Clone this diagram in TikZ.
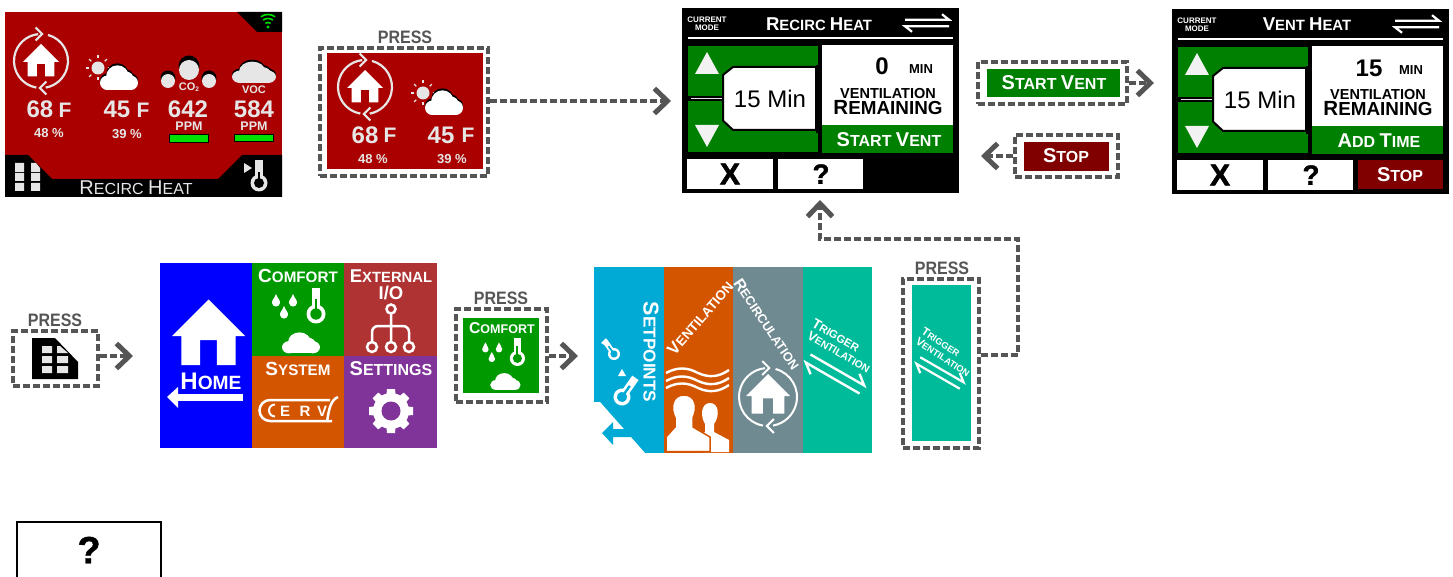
\documentclass[tikz,border=0pt]{standalone}
\usepackage{fontspec}
\usepackage{graphicx}
\setmainfont{Liberation Sans}
\usetikzlibrary{arrows.meta}
\definecolor{panelred}{HTML}{AA0000}
\definecolor{dgreen}{HTML}{008000}
\definecolor{stopred}{HTML}{800000}
\definecolor{dashgray}{HTML}{555555}
\definecolor{lgray}{HTML}{E6E6E6}
\definecolor{tgreen}{HTML}{009900}
\definecolor{tred}{HTML}{B03333}
\definecolor{torange}{HTML}{D45500}
\definecolor{tpurple}{HTML}{803399}
\definecolor{tcyan}{HTML}{00AAD4}
\definecolor{tslate}{HTML}{6F8A91}
\definecolor{tteal}{HTML}{00BB99}
\definecolor{wifig}{HTML}{00E000}
\newcounter{lb}
\newcommand\sm[1]{\scalebox{0.8}{#1}}
\newcommand\prs{\scalebox{.89}[1]{PRESS}}
\newcommand\lbl[3][]{\stepcounter{lb}\node[lab,#1] (t\arabic{lb}) at (#2) {#3};}
% icons, all drawn round the origin
\newcommand\houseicon[1]{\fill[#1] (0,-1)--(1,0)--(.74,0)--(.74,.8)--(.23,.8)--(.23,.11)--(-.23,.11)--(-.23,.8)--(-.74,.8)--(-.74,0)--(-1,0)--cycle;}
\newcommand\ringicon[2]{\draw[#1,line width=#2,line join=miter] (100:1) arc (100:264:1) (-.2,-1.24)--(.04,-1)--(-.2,-.76) (285:1) arc (285:440:1) (.2,.76)--(-.04,1)--(.2,1.24);}
\newcommand\cloudicon[1]{\fill[#1] (-.62,.2) circle (.38) (.62,.2) circle (.38) (-.08,-.12) circle (.6) (.4,-.02) circle (.36);\fill[#1] (-.62,-.1) rectangle (.62,.58);}
\newcommand\sunicon{\fill[lgray] (0,0) circle (6.5);\foreach \a in {0,45,...,315}{\draw[lgray,line width=1.2pt] (\a:9.5)--(\a:12.5);}}
\newcommand\thermoicon[1]{\fill[white] (-.45,-2.75) rectangle (.45,0);\fill[white] (0,0) circle (1);\fill[#1] (0,0) circle (.6);\fill[#1] (-.14,-1.6) rectangle (.14,-.3);}
\newcommand\dropicon{\fill[white] (0,-1.5) .. controls (.2,-.8) and (.75,-.4) .. (.75,.1) arc (0:180:.75) .. controls (-.75,-.4) and (-.2,-.8) .. (0,-1.5) -- cycle;}
\newcommand\swapicon[1]{\draw[white,line width=#1,line join=miter] (-.5,-.075)--(.5,-.075)--(.34,-.2) (.5,.075)--(-.5,.075)--(-.34,.2);}
\newcommand\homeblock[3]{%
  \begin{scope}[shift={(#1,#2)},scale=#3]\ringicon{lgray}{2.2pt}\end{scope}
  \begin{scope}[shift={(#1,#2+1)},scale=18]\houseicon{white}\end{scope}}
\newcommand\weatherblock[2]{%
  \begin{scope}[shift={(#1,#2)}]\sunicon\end{scope}
  \begin{scope}[shift={(#1+21,#2+9)},scale=19]\cloudicon{black}\end{scope}
  \begin{scope}[shift={(#1+21,#2+11)},scale=19]\cloudicon{white}\end{scope}}
\newcommand\comfortset[3]{% x y scale
  \begin{scope}[shift={(#1,#2)},scale=#3]
   \begin{scope}[shift={(-22,26)},scale=5.4]\dropicon\end{scope}
   \begin{scope}[shift={(-5,26)},scale=5.4]\dropicon\end{scope}
   \begin{scope}[shift={(-14,38)},scale=5.4]\dropicon\end{scope}
   \begin{scope}[shift={(18,38)},scale=9.5]\thermoicon{tgreen}\end{scope}
   \begin{scope}[shift={(3,68)},scale=19,yscale=.85]\cloudicon{white}\end{scope}
  \end{scope}}
\newcommand\screenbody{%
  \fill[dgreen] (688,46) rectangle (818,152);
  \fill[black] (688,96) rectangle (723,101);
  \fill[black] (816,65) rectangle (823,133);
  \draw[lgray,line width=1.5pt] (691,98.5)--(725,98.5);
  \fill[white,draw=black,line width=2pt] (723,75)--(733,67)--(816,67)--(816,130)--(733,130)--(723,120.6)--cycle;
  \fill[white!95!black] (707,52)--(719,74)--(695,74)--cycle;
  \fill[white!95!black] (695,125)--(719,125)--(707,147)--cycle;
  \fill[white] (822,45) rectangle (953,125);
  \fill[dgreen] (822,125) rectangle (953,153);
  \draw[white,line width=2.5pt] (688,38)--(953,38);
  \begin{scope}[shift={(927,23)},scale=44]\swapicon{2.2pt}\end{scope}
  \lbl[fs=8]{707,24}{CURRENT\\MODE}
  \lbl[font=\fontsize{24}{24}\selectfont,text=black]{770,99}{15 Min}
  \lbl[fs=14.5,text=black]{888,94}{VENTILATION}
  \lbl[fs=20.5,text=black]{888,108}{R\scalebox{.92}{EMAINING}}
  \fill[white] (687,159) rectangle (773,189);
  \fill[white] (778,159) rectangle (863,189);
  \lbl[fs=30,text=black]{730,174}{\addfontfeature{FakeBold=2}X}
  \lbl[fs=28,text=black]{821,174}{\addfontfeature{FakeBold=1}?}
}
\tikzset{
 x=1pt,y=-1pt,
 lab/.style={inner sep=0pt,text=white,align=center},
 fs/.style={font=\bfseries\fontsize{#1}{#1}\selectfont},
 dbox/.style={draw=dashgray,line width=3.2pt,dash pattern=on 7pt off 3pt,inner sep=0pt,minimum width=#1},
 flow/.style={draw=dashgray,line width=3.2pt,dash pattern=on 7pt off 3pt,-{Straight Barb[length=13pt,width=25pt,line width=5pt]}},
 presslab/.style={fs=18,text=dashgray},
}
\begin{document}
\begin{tikzpicture}
\useasboundingbox (0,0) rectangle (1453,577);
%% ---- panel 1
\node[fill=panelred,minimum width=277pt,minimum height=185pt,inner sep=0pt] (panelA) at (143.5,104.5) {};
\fill[black] (237,12)--(282,12)--(282,32)--(257,32)--cycle;
\foreach \r in {4.5,8.5,12.5}{\draw[wifig,line width=1.6pt] (268,27)++(235:\r) arc (235:305:\r);}
\fill[wifig] (268,27) circle (1.7);
\fill[black] (5,155)--(28,155)--(52,179)--(218,179)--(242,155)--(282,155)--(282,197)--(5,197)--cycle;
\fill[lgray] (15,163) rectangle (24,172) (31,163)--(36,163)--(40,168)--(40,172)--(31,172)--cycle (15,173) rectangle (24,181) (31,173) rectangle (40,181) (15,183) rectangle (24,191) (31,183) rectangle (40,191);
\lbl[font=\fontsize{20}{20}\selectfont,text=lgray]{136,188}{R\sm{ECIRC }H\sm{EAT}}
\fill[lgray] (244,163)--(252,168)--(244,173)--cycle;
\fill[lgray] (255,160) rectangle (263,178);
\fill[lgray] (259,183) circle (8.5);
\fill[black] (259,183) circle (5);
\fill[black] (258,172) rectangle (260,180);
\homeblock{41}{61}{27}
\lbl[fs=24,text=lgray]{40,109}{68}
\lbl[fs=21,text=lgray]{65,110}{F}
\lbl[fs=13,text=lgray]{49,133}{48 \%}
\weatherblock{98}{68}
\lbl[fs=24,text=lgray]{117,109}{45}
\lbl[fs=21,text=lgray]{143,110}{F}
\lbl[fs=13,text=lgray]{127,134}{39 \%}
\fill[black] (168,78) circle (7.5) (189,66) circle (10.5) (209,78) circle (7.5);
\fill[lgray] (168,81) circle (7) (189,70) circle (10) (209,81) circle (7);
\lbl[fs=11,text=lgray]{189,87}{CO\raisebox{-1pt}{\scalebox{.6}{2}}}
\lbl[fs=24,text=lgray]{188,109}{642}
\lbl[fs=12.5,text=lgray]{189,126}{PPM}
\fill[wifig,draw=black,line width=1pt] (169,135) rectangle (208,143);
\begin{scope}[shift={(254,71.5)},scale=22,yscale=.75]\cloudicon{black}\end{scope}
\begin{scope}[shift={(254,73.5)},scale=22,yscale=.75]\cloudicon{lgray}\end{scope}
\lbl[fs=11,text=lgray]{254,90}{VOC}
\lbl[fs=24,text=lgray]{254,109}{584}
\lbl[fs=12.5,text=lgray]{254,126}{PPM}
\fill[wifig,draw=black,line width=1pt] (234,135) rectangle (273,142);
%% ---- press panel
\lbl[presslab]{405,37}{\prs}
\fill[panelred] (327,53) rectangle (483,169);
\node[dbox=168pt,minimum height=128pt] (pressA) at (404,112) {};
\homeblock{365}{87}{27}
\weatherblock{423}{93}
\lbl[fs=24,text=lgray]{365,135}{68}
\lbl[fs=21,text=lgray]{390,135}{F}
\lbl[fs=13,text=lgray]{373,159}{48 \%}
\lbl[fs=24,text=lgray]{441,135}{45}
\lbl[fs=21,text=lgray]{468,135}{F}
\lbl[fs=13,text=lgray]{452,159}{39 \%}
%% ---- recirc screen
\node[fill=black,minimum width=277pt,minimum height=185pt,inner sep=0pt] (scrA) at (820.5,100.5) {};
\screenbody
\lbl[fs=18.6]{819,24}{R\sm{ECIRC }H\sm{EAT}}
\lbl[fs=24,text=black]{882,66}{0}
\lbl[fs=13,text=black]{921,69}{MIN}
\lbl[fs=20]{889,140}{S\sm{TART }V\sm{ENT}}
%% ---- vent screen
\node[fill=black,minimum width=277pt,minimum height=185pt,inner sep=0pt] (scrB) at (1310.5,101.5) {};
\begin{scope}[shift={(490,1)}]
\screenbody
\lbl[fs=18.6]{817,23}{V\sm{ENT }H\sm{EAT}}
\lbl[fs=24,text=black]{879,67}{15}
\lbl[fs=13,text=black]{921,69}{MIN}
\lbl[fs=20]{889,140}{A\sm{DD }T\sm{IME}}
\fill[stopred] (868,159) rectangle (953,188);
\lbl[fs=20]{910,174}{S\sm{TOP}}
\end{scope}
%% ---- start vent / stop
\fill[dgreen] (987,69) rectangle (1120,97);
\node[dbox=149pt,minimum height=42pt] (btnStart) at (1052.5,83) {};
\lbl[fs=20]{1054,83}{S\sm{TART }V\sm{ENT}}
\fill[stopred] (1024,142) rectangle (1109,171);
\node[dbox=103pt,minimum height=42pt] (btnStop) at (1066.5,156) {};
\lbl[fs=20]{1066,156}{S\sm{TOP}}
%% ---- row 2: press grid
\lbl[presslab]{55,320}{\prs}
\node[dbox=85pt,minimum height=55pt] (pressGrid) at (55.5,358.5) {};
\fill[black] (32,338)--(55,338)--(78,362)--(78,379)--(32,379)--cycle;
\fill[lgray] (42,346) rectangle (52,353) (57,346)--(60,346)--(68,353)--(57,353)--cycle (42,356) rectangle (52,363) (57,356) rectangle (68,363) (42,366) rectangle (52,373) (57,366) rectangle (68,373);
%% ---- home tiles
\fill[blue] (160,263) rectangle (252,448);
\fill[tgreen] (252,263) rectangle (344,356);
\fill[tred] (344,263) rectangle (437,356);
\fill[torange] (252,356) rectangle (344,448);
\fill[tpurple] (344,356) rectangle (437,448);
\begin{scope}[shift={(208.5,336)},scale=36.5]\houseicon{white}\end{scope}
\lbl[fs=24]{211,381}{H\sm{OME}}
\fill[white] (177,393.5) rectangle (243,401);
\fill[white] (167,397)--(178,387)--(178,408)--cycle;
\lbl[fs=19]{298,276}{C\sm{OMFORT}}
\comfortset{298}{276}{1}
\lbl[fs=18.5]{391,276}{E\sm{XTERNAL}}
\lbl[fs=18.5]{391,293}{I/O}
\draw[white,line width=2.5pt] (391,309) circle (4.5) (391,313.5)--(391,341) (372,341.5)--(372,332) arc (180:270:6) -- (403,326) arc (270:360:6) -- (409,341.5);
\draw[white,line width=2.5pt] (372,347) circle (5) (391,347) circle (5) (409,347) circle (5);
\lbl[fs=19]{298,369}{S\sm{YSTEM}}
\draw[white,line width=2.5pt] (330,400)--(270,400) arc (270:90:10.5) --(332,421);
\draw[white,line width=2pt] (275,404.5) arc (270:90:6);
\lbl[fs=15]{285,411}{E}
\lbl[fs=15]{305,411}{R}
\lbl[fs=15]{322,411}{V}
\draw[white,line width=2.5pt] (327,422) .. controls (329,408) and (331,400) .. (338,397);
\lbl[fs=20]{391,369}{S\sm{ETTINGS}}
\foreach \a in {0,45,...,315}{\fill[white,rotate around={\a:(391,411)}] (385,411)--(387,389)--(395,389)--(397,411)--cycle;}
\fill[white] (391,411) circle (18);
\fill[tpurple] (391,411) circle (9.5);
%% ---- comfort press
\lbl[presslab]{501,298}{\prs}
\fill[tgreen] (463,318) rectangle (539,393);
\node[dbox=91pt,minimum height=93pt] (pressComfort) at (501.5,355.5) {};
\lbl[fs=15.7]{502,328}{C\sm{OMFORT}}
\comfortset{503}{328}{.8}
%% ---- setpoints strip
\fill[tcyan] (594,267) rectangle (664,453);
\fill[torange] (664,267) rectangle (733,453);
\fill[tslate] (733,267) rectangle (803,453);
\fill[tteal] (803,267) rectangle (872,453);
\fill[white] (594,402)--(600,402)--(645,453)--(594,453)--cycle;
\fill[tcyan] (602,433)--(613,422)--(613,429)--(632,429)--(632,437)--(613,437)--(613,445)--cycle;
\lbl[fs=21.5,rotate=-90]{651,352}{S\sm{ETPOINTS}}
\begin{scope}[shift={(614,354)},rotate=35,scale=6]\thermoicon{tcyan}\end{scope}
\fill[white] (601,343)--(606,338)--(606,346)--cycle;
\begin{scope}[shift={(622,397)},rotate=-35,scale=8.5]\thermoicon{tcyan}\end{scope}
\fill[white] (618,376)--(622,369)--(626,376)--cycle;
\lbl[fs=16.8,rotate=49]{700,318}{V\sm{ENTILATION}}
\foreach \yy in {373,381,388}{\draw[white,line width=2.4pt] (666,\yy) .. controls (677,\yy-6) and (687,\yy-6) .. (698,\yy) .. controls (709,\yy+5) and (719,\yy+4) .. (729,\yy-3);}
% people
\fill[white] (703,452)--(729,452)--(729,440)--(714,432)--(714,424) .. controls (720,416) and (719,403) .. (710,403) .. controls (701,403) and (700,416) .. (705,424)--(705,432)--(698,437)--cycle;
\fill[white,draw=torange,line width=1.5pt] (666,451.5)--(710,451.5)--(710,437)--(693,427)--(693,418) .. controls (698,408) and (696,395) .. (684,395) .. controls (672,395) and (670,408) .. (675,418)--(675,427)--(666,437)--cycle;
\lbl[fs=15.8,rotate=-56]{767,324}{R\sm{ECIRCULATION}}
\begin{scope}[shift={(768,397)},scale=29]\ringicon{white}{2pt}\end{scope}
\begin{scope}[shift={(768,396)},scale=22]\houseicon{white}\end{scope}
\lbl[fs=13.9,rotate=-30]{836,335}{T\sm{RIGGER}}
\lbl[fs=13,rotate=-30]{839,352}{V\sm{ENTILATION}}
\begin{scope}[shift={(835,374)},rotate=-30,scale=62]\swapicon{2.4pt}\end{scope}
%% ---- trigger press
\lbl[presslab]{942,268}{\prs}
\fill[tteal] (912,285) rectangle (971,441);
\node[dbox=76pt,minimum height=169pt] (pressTrig) at (941,363.5) {};
\lbl[fs=11.5,rotate=-33]{941,342}{T\sm{RIGGER}}
\lbl[fs=11.5,rotate=-33]{943,357}{V\sm{ENTILATION}}
\begin{scope}[shift={(940,373)},rotate=-30,scale=50]\swapicon{2.2pt}\end{scope}
%% ---- help box
\node[draw=black,line width=2.5pt,fill=white,minimum width=144pt,minimum height=56pt,inner sep=0pt] (help) at (89,550) {};
\lbl[fs=38,text=black]{89,550}{\addfontfeature{FakeBold=1}?}
%% ---- connectors
\coordinate (tipA) at (671,101);
\coordinate (tipB) at (1154,83);
\coordinate (tipC) at (981,156);
\coordinate (tipD) at (133,356);
\coordinate (tipE) at (578,356);
\coordinate (tipF) at (820,200);
\coordinate (k1) at (1018,355);
\coordinate (k2) at (1018,239);
\coordinate (k3) at (820,239);
\draw[flow] (pressA.east |- tipA) -- (tipA);
\draw[flow] (btnStart.east |- tipB) -- (tipB);
\draw[flow] (btnStop.west |- tipC) -- (tipC);
\draw[flow] (pressGrid.east |- tipD) -- (tipD);
\draw[flow] (pressComfort.east |- tipE) -- (tipE);
\draw[flow] (pressTrig.east |- k1) -- (k1) -- (k2) -- (k3) -- (tipF);
\end{tikzpicture}
\end{document}
